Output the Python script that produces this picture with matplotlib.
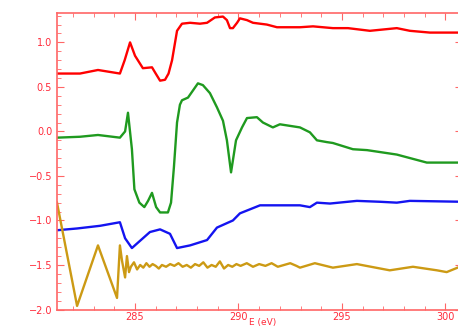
import matplotlib
matplotlib.use('Agg')
import matplotlib.pyplot as plt
from matplotlib.ticker import MultipleLocator

# spectra (energy in eV, offset intensity)
red_e = [281.23, 282.34, 283.21, 284.27, 284.5, 284.76, 285.0, 285.38, 285.82, 286.0,
         286.21, 286.45, 286.62, 286.79, 287.03, 287.27, 287.66, 288.14, 288.48, 288.86,
         289.25, 289.44, 289.59, 289.73, 289.93, 290.07, 290.41, 290.70, 291.37, 291.86,
         292.97, 293.60, 294.56, 295.29, 296.35, 297.65, 298.28, 299.25, 300.8]
red_y = [0.65, 0.65, 0.69, 0.65, 0.80, 1.00, 0.85, 0.71, 0.72, 0.65,
         0.57, 0.58, 0.65, 0.80, 1.13, 1.21, 1.22, 1.21, 1.22, 1.28,
         1.29, 1.25, 1.16, 1.16, 1.22, 1.27, 1.25, 1.22, 1.20, 1.17,
         1.17, 1.18, 1.16, 1.16, 1.13, 1.16, 1.13, 1.11, 1.11]

green_e = [281.23, 282.34, 283.21, 284.27, 284.52, 284.66, 284.85, 284.97, 285.21, 285.45,
           285.63, 285.82, 286.02, 286.21, 286.59, 286.74, 286.88, 287.03, 287.17, 287.27,
           287.56, 287.80, 288.04, 288.28, 288.62, 288.96, 289.25, 289.44, 289.64, 289.88,
           290.17, 290.41, 290.89, 291.18, 291.66, 292.0, 292.97, 293.45, 293.79, 294.27,
           294.56, 295.53, 296.21, 297.65, 299.10, 300.8]
green_y = [-0.07, -0.06, -0.04, -0.07, 0.0, 0.21, -0.2, -0.65, -0.80, -0.85,
           -0.78, -0.69, -0.85, -0.91, -0.91, -0.80, -0.40, 0.10, 0.30, 0.35,
           0.38, 0.46, 0.54, 0.52, 0.43, 0.27, 0.12, -0.10, -0.46, -0.10,
           0.045, 0.15, 0.16, 0.10, 0.045, 0.08, 0.045, -0.01, -0.10, -0.12,
           -0.13, -0.20, -0.21, -0.26, -0.35, -0.35]

blue_e = [281.23, 282.20, 283.31, 284.27, 284.52, 284.85, 285.09, 285.72, 286.21, 286.69,
          287.03, 287.66, 288.48, 288.96, 289.44, 289.73, 290.07, 291.04, 292.0, 292.97,
          293.45, 293.79, 294.42, 295.72, 296.83, 297.65, 298.28, 300.8]
blue_y = [-1.11, -1.09, -1.06, -1.02, -1.20, -1.31, -1.26, -1.13, -1.10, -1.15,
          -1.31, -1.28, -1.22, -1.08, -1.03, -1.00, -0.92, -0.83, -0.83, -0.83,
          -0.85, -0.80, -0.81, -0.78, -0.79, -0.80, -0.78, -0.79]

gold_e = [281.23, 282.20, 283.21, 284.13, 284.27, 284.37, 284.52, 284.61, 284.71,
          284.8, 284.95, 285.1, 285.25, 285.4, 285.55, 285.7, 285.85, 286.0, 286.15,
          286.3, 286.5, 286.7, 286.9, 287.1, 287.3, 287.5, 287.7, 287.9, 288.1,
          288.3, 288.5, 288.7, 288.9, 289.1, 289.3, 289.5, 289.7, 289.9, 290.1,
          290.4, 290.7, 291.0, 291.3, 291.6, 291.9, 292.2, 292.5, 292.8,
          292.97, 293.69, 294.56, 295.72, 297.31, 298.43, 299.59, 300.06, 300.8]
gold_y = [-0.80, -1.96, -1.28, -1.87, -1.28, -1.45, -1.64, -1.40, -1.58,
          -1.52, -1.47, -1.55, -1.50, -1.53, -1.48, -1.52, -1.49, -1.51, -1.54,
          -1.50, -1.52, -1.49, -1.51, -1.48, -1.52, -1.50, -1.53, -1.49, -1.51,
          -1.47, -1.53, -1.50, -1.52, -1.46, -1.54, -1.50, -1.52, -1.49, -1.51,
          -1.48, -1.52, -1.49, -1.51, -1.48, -1.52, -1.50, -1.48, -1.51,
          -1.53, -1.48, -1.53, -1.49, -1.56, -1.52, -1.56, -1.58, -1.51]

axis_col = '#ff6666'
text_col = '#ff2a3a'

fig = plt.figure(figsize=(4.58, 3.28), dpi=100)
ax = fig.add_axes([57 / 458, 1 - 309.5 / 328, 405 / 458, 296.5 / 328])

ax.plot(red_e, red_y, color='#ff0000', lw=1.7)
ax.plot(green_e, green_y, color='#1f9a1f', lw=1.7)
ax.plot(blue_e, blue_y, color='#1414f0', lw=1.7)
ax.plot(gold_e, gold_y, color='#cc9a14', lw=1.7)

ax.set_xlim(281.23, 300.8)
ax.set_ylim(-2.0, 1.33)
ax.set_xticks([285, 290, 295, 300])
ax.set_yticks([-2.0, -1.5, -1.0, -0.5, 0.0, 0.5, 1.0])
ax.xaxis.set_minor_locator(MultipleLocator(1))
ax.yaxis.set_minor_locator(MultipleLocator(0.1))
ax.tick_params(which='both', direction='in', top=True, right=True,
               color=axis_col, labelcolor=text_col, labelsize=7)
ax.tick_params(axis='x', pad=2)
ax.tick_params(which='major', length=5, width=0.8)
ax.tick_params(which='minor', length=3, width=0.6)
for sp in ax.spines.values():
    sp.set_color(axis_col)
    sp.set_linewidth(1.2)

# x label sits right at the bottom edge, below the 290 label
fig.text(263 / 458, 0.003, 'E (eV)', color=text_col, fontsize=6.5,
         ha='center', va='bottom')

fig.savefig('out.png', dpi=100, facecolor='white')
